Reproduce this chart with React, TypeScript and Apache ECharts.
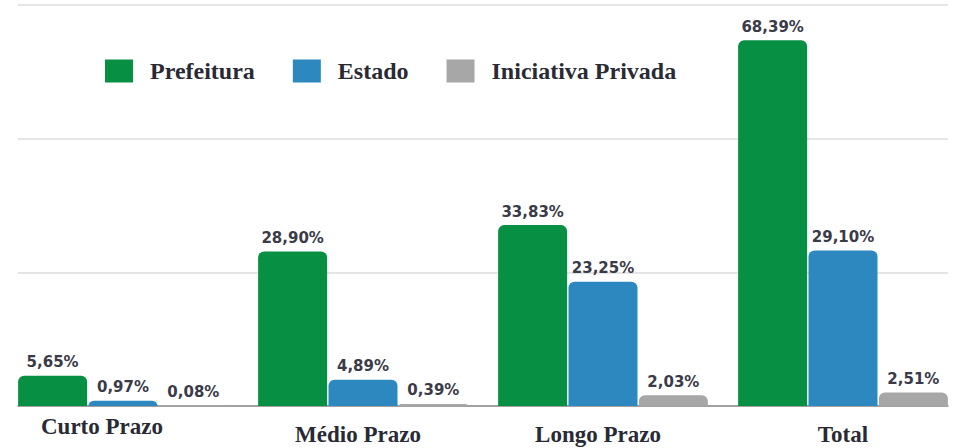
import React, { useEffect, useRef } from "react";
import * as echarts from "echarts";

const categories = ["Curto Prazo", "Médio Prazo", "Longo Prazo", "Total"];
const prefeitura = [5.65, 28.9, 33.83, 68.39];
const estado = [0.97, 4.89, 23.25, 29.1];
const privada = [0.08, 0.39, 2.03, 2.51];
const seriesNames = ["Prefeitura", "Estado", "Iniciativa Privada"];
const colors = ["#078f44", "#2d88bf", "#a7a7a7"];

const fmt = (v: number) => v.toFixed(2).replace(".", ",") + "%";

export default function App() {
  const ref = useRef<HTMLDivElement>(null);
  useEffect(() => {
    const chart = echarts.init(ref.current!, null, { renderer: "svg" });
    const valueLabel = {
      show: true,
      position: "top",
      distance: 6,
      fontFamily: "DejaVu Sans",
      fontWeight: "bold",
      fontSize: 15,
      color: "#3a3a48",
      formatter: (p: any) => fmt(p.value),
    };
    const datas = [prefeitura, estado, privada];
    const catFont = {
      fontFamily: "Liberation Serif",
      fontWeight: "bold",
      fontSize: 23,
      color: "#2a2a35",
    };
    const richKey = ["a", "b", "b", "c"];
    chart.setOption({
      animation: false,
      legend: {
        left: 105,
        top: 59,
        padding: 0,
        itemWidth: 28,
        itemHeight: 23,
        itemGap: 38,
        icon: "rect",
        data: seriesNames,
        textStyle: {
          fontFamily: "Liberation Serif",
          fontWeight: "bold",
          fontSize: 24,
          color: "#2a2a35",
          padding: [0, 0, 0, 12],
        },
      },
      grid: [
        { left: 3, width: 960, top: 5, height: 401, outerBoundsMode: "none", containLabel: false },
        { left: 18, width: 930, top: 5, height: 401, outerBoundsMode: "none", containLabel: false },
      ],
      xAxis: [
        {
          type: "category",
          gridIndex: 0,
          data: categories,
          axisLine: { show: false },
          axisTick: { show: false },
          axisLabel: {
            margin: 9,
            formatter: (v: string, i: number) => `{${richKey[i]}|${v}}`,
            rich: {
              a: { ...catFont, padding: [0, 42, 0, 0] },
              b: { ...catFont, padding: [8, 10, 0, 0] },
              c: { ...catFont, padding: [8, 0, 0, 0] },
            },
          },
        },
        {
          type: "category",
          gridIndex: 1,
          data: categories,
          axisLine: { show: true, lineStyle: { color: "#8a8a8a", width: 1.5 } },
          axisTick: { show: false },
          axisLabel: { show: false },
        },
      ],
      yAxis: [
        {
          type: "value",
          gridIndex: 0,
          min: 0,
          max: 75,
          interval: 25,
          axisLabel: { show: false },
          splitLine: { show: false },
          axisLine: { show: false },
          axisTick: { show: false },
        },
        {
          type: "value",
          gridIndex: 1,
          min: 0,
          max: 75,
          interval: 25,
          axisLabel: { show: false },
          splitLine: { show: true, lineStyle: { color: "#dcdcdc", width: 1.5 } },
          axisLine: { show: false },
          axisTick: { show: false },
        },
      ],
      series: seriesNames.map((name, i) => ({
        name,
        type: "bar",
        xAxisIndex: 0,
        yAxisIndex: 0,
        data: datas[i],
        barWidth: 69,
        barGap: "2%",
        itemStyle: { color: colors[i], borderRadius: [6, 6, 0, 0] },
        label: valueLabel,
      })),
    });
    return () => chart.dispose();
  }, []);
  return (
    <div
      ref={ref}
      style={{ position: "absolute", left: 0, top: 0, width: 957, height: 448, overflow: "hidden" }}
    />
  );
}
